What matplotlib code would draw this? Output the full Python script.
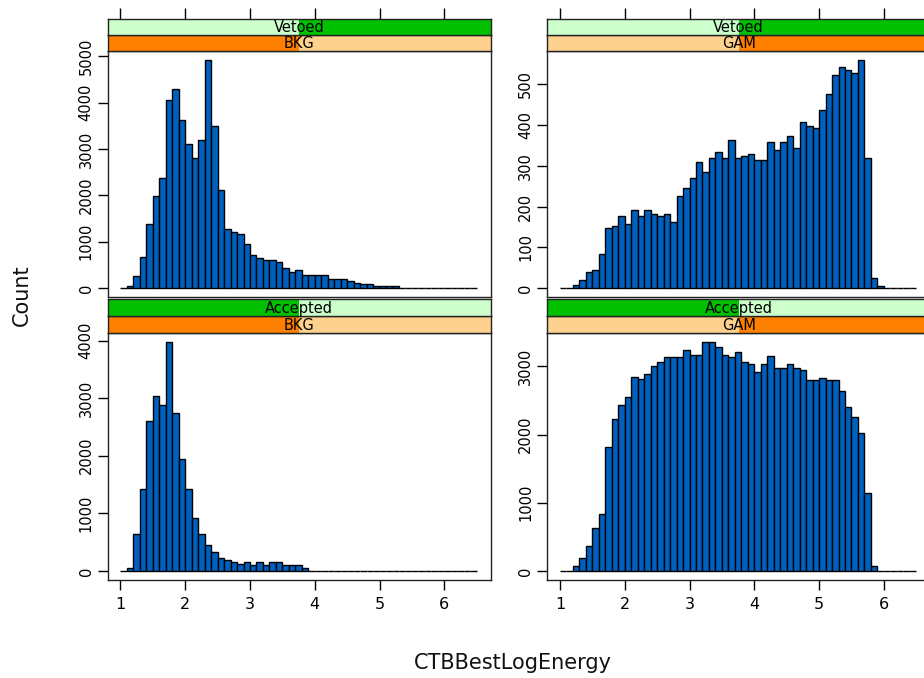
import numpy as np
import matplotlib
matplotlib.use("Agg")
import matplotlib.pyplot as plt
from matplotlib.patches import Rectangle

plt.rcParams['font.family'] = ['DejaVu Sans']

# ---- data ----
bin_edges = np.round(np.arange(1.0, 6.5001, 0.1), 2)   # 55 bins of width 0.1

bkg_vetoed = [0, 50, 264, 657, 1371, 1979, 2371, 4057, 4307, 3621,
              3107, 2800, 3193, 4914, 3500, 2121, 1264, 1200, 1157, 950,
              714, 643, 600, 600, 557, 429, 343, 386, 286, 286,
              286, 286, 200, 200, 200, 143, 100, 86, 86, 50,
              43, 43, 43, 0, 0, 0, 0, 0, 0, 0,
              0, 0, 0, 0, 0]
gam_vetoed = [0, 0, 7, 20, 39, 44, 84, 147, 152, 176,
              156, 191, 176, 191, 182, 176, 182, 161, 225, 246,
              270, 309, 285, 318, 334, 318, 363, 318, 323, 328,
              314, 314, 358, 338, 358, 373, 344, 407, 399, 393,
              436, 476, 524, 543, 536, 529, 559, 318, 24, 5,
              0, 0, 0, 0, 0]
bkg_accepted = [0, 47, 640, 1415, 2603, 3028, 2882, 3977, 2748, 1939,
                1415, 920, 640, 454, 320, 221, 186, 146, 116, 146,
                105, 146, 105, 146, 146, 105, 105, 105, 47, 0,
                0, 0, 0, 0, 0, 0, 0, 0, 0, 0,
                0, 0, 0, 0, 0, 0, 0, 0, 0, 0,
                0, 0, 0, 0, 0]
gam_accepted = [0, 0, 69, 187, 359, 635, 836, 1815, 2233, 2440,
                2558, 2848, 2814, 2882, 3000, 3060, 3143, 3143, 3143, 3237,
                3168, 3168, 3360, 3360, 3291, 3168, 3143, 3217, 3069, 3035,
                2912, 3030, 3148, 2971, 2971, 3035, 2976, 2951, 2794, 2794,
                2833, 2794, 2794, 2646, 2410, 2263, 2027, 1141, 69, 0,
                0, 0, 0, 0, 0]

status_levels = ["Accepted", "Vetoed"]
type_levels = ["BKG", "GAM"]
x_ticks = [1, 2, 3, 4, 5, 6]
y_ticks = {
    ("Vetoed", "BKG"): [0, 1000, 2000, 3000, 4000, 5000],
    ("Vetoed", "GAM"): [0, 100, 200, 300, 400, 500],
    ("Accepted", "BKG"): [0, 1000, 2000, 3000, 4000],
    ("Accepted", "GAM"): [0, 1000, 2000, 3000],
}
panels = {
    ("Vetoed", "BKG"): bkg_vetoed,
    ("Vetoed", "GAM"): gam_vetoed,
    ("Accepted", "BKG"): bkg_accepted,
    ("Accepted", "GAM"): gam_accepted,
}

# ---- style ----
W, H = 924, 678
BAR = '#0060C0'
STRIP1 = ('#CCFFCC', '#00C000')   # status strip (light, dark)
STRIP2 = ('#FFD18F', '#FF8000')   # type strip (light, dark)
XLIM = (0.80, 6.72)

fig = plt.figure(figsize=(W / 100, H / 100), dpi=100)


def rect(x0, y0, x1, y1):
    return [x0 / W, 1 - y1 / H, (x1 - x0) / W, (y1 - y0) / H]


cols = {"BKG": (107.5, 491.0), "GAM": (547.0, 930.5)}
rows = {
    "Vetoed": dict(plot=(51.3, 297.0), s1=(19.3, 34.7), s2=(34.7, 51.3), top=True),
    "Accepted": dict(plot=(332.7, 580.0), s1=(299.0, 316.3), s2=(316.3, 332.7), top=False),
}


def strip(y0, y1, x0, x1, label, level_idx, nlev, colors, ticks_top):
    sax = fig.add_axes(rect(x0, y0, x1, y1))
    sax.set_xlim(XLIM)
    sax.set_ylim(0, 1)
    sax.add_patch(Rectangle((0, 0), 1, 1, transform=sax.transAxes,
                            facecolor=colors[0], edgecolor='none', zorder=0))
    sax.add_patch(Rectangle((level_idx / nlev, 0), 1 / nlev, 1,
                            transform=sax.transAxes,
                            facecolor=colors[1], edgecolor='none', zorder=1))
    sax.text(0.5, 0.45, label, transform=sax.transAxes, ha='center',
             va='center', fontsize=10.5, color='black', zorder=3)
    sax.set_yticks([])
    for sp in sax.spines.values():
        sp.set_linewidth(1.0)
        sp.set_color('#222222')
    if ticks_top:
        sax.xaxis.set_ticks_position('top')
        sax.set_xticks(x_ticks)
        sax.tick_params(axis='x', direction='out', length=8, width=1.0,
                        labeltop=False, labelbottom=False)
    else:
        sax.set_xticks([])
    return sax


for status, r in rows.items():
    for typ, (x0, x1) in cols.items():
        vals = np.array(panels[(status, typ)], dtype=float)
        ax = fig.add_axes(rect(x0, r['plot'][0], x1, r['plot'][1]))
        ax.bar(bin_edges[:-1], vals, width=0.1, align='edge', color=BAR,
               edgecolor='black', linewidth=1.0)
        m = vals.max()
        ax.set_ylim(-0.04 * m, 1.04 * m)
        ax.set_xlim(XLIM)
        for sp in ax.spines.values():
            sp.set_linewidth(1.0)
            sp.set_color('#222222')
        ax.set_yticks(y_ticks[(status, typ)])
        ax.tick_params(axis='y', direction='out', length=7, width=1.0,
                       labelsize=10.5, pad=3, right=False)
        for lab in ax.get_yticklabels():
            lab.set_rotation(90)
            lab.set_va('center')
            lab.set_ha('right')
        ax.set_xticks(x_ticks)
        if r['top']:
            ax.tick_params(axis='x', bottom=False, labelbottom=False)
        else:
            ax.tick_params(axis='x', direction='out', length=7, width=1.0,
                           labelsize=11.5, pad=5)
        strip(r['s2'][0], r['s2'][1], x0, x1, typ, type_levels.index(typ),
              2, STRIP2, False)
        strip(r['s1'][0], r['s1'][1], x0, x1, status,
              status_levels.index(status), 2, STRIP1, r['top'])

fig.text(513 / W, 1 - 663 / H, "CTBBestLogEnergy", ha='center', va='center',
         fontsize=15, color='#111111')
fig.text(22 / W, 1 - 295 / H, "Count", ha='center', va='center',
         rotation=90, fontsize=15, color='#111111')

fig.savefig("out.png", dpi=100)
